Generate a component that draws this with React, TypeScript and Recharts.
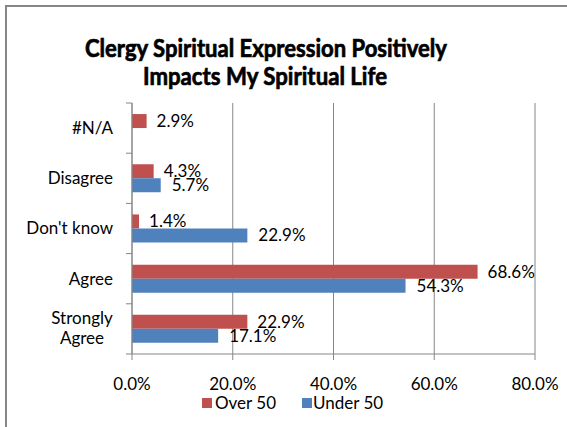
import { BarChart, Bar, XAxis, YAxis, CartesianGrid, LabelList } from 'recharts';

// categories top to bottom, values in percent
const categories = ['#N/A', 'Disagree', "Don't know", 'Agree', 'Strongly Agree'];
const over50 = [2.9, 4.3, 1.4, 68.6, 22.9];
const under50: (number | null)[] = [null, 5.7, 22.9, 54.3, 17.1];
const xTicks = [0, 20, 40, 60, 80];

const titleLines = ['Clergy Spiritual Expression Positively', 'Impacts My Spiritual Life'];
const seriesNames = ['Over 50', 'Under 50'];

const RED = '#C0504D';
const BLUE = '#4F81BD';
const AXIS = '#868686';
const FONT = 'Lato, "Open Sans", sans-serif';
const FS = 17;

const data = categories.map((name, i) => ({
  name,
  over: over50[i],
  under: under50[i],
}));

const pct = (v: any) => (v == null || v === '' ? '' : `${Number(v).toFixed(1)}%`);

// category label plus tick marks on the band boundaries (Excel style)
function CategoryTick(props: any) {
  const { x, y, payload, index, visibleTicksCount } = props;
  const half = payload?.offset || 25;
  const label: string = payload.value;
  const lines = label.length > 12 ? label.split(' ') : [label];
  const isLast = index === (visibleTicksCount ?? categories.length) - 1;
  return (
    <g>
      <line x1={x} x2={x - 6} y1={y - half} y2={y - half} stroke={AXIS} />
      {isLast && <line x1={x} x2={x - 6} y1={y + half} y2={y + half} stroke={AXIS} />}
      {lines.length === 1 ? (
        <text x={x - 19} y={y} dy="0.35em" textAnchor="end" fontSize={FS} fill="#000" fontFamily={FONT}>
          {label}
        </text>
      ) : (
        <text x={x - 50} y={y} textAnchor="middle" fontSize={FS} fill="#000" fontFamily={FONT}>
          {lines.map((l, i) => (
            <tspan key={l} x={x - 50} y={y + 5 + (i - (lines.length - 1) / 2) * 20}>
              {l}
            </tspan>
          ))}
        </text>
      )}
    </g>
  );
}

export default function App() {
  return (
    <div
      style={{
        position: 'absolute',
        left: 0,
        top: 0,
        width: 567,
        height: 427,
        overflow: 'hidden',
        background: '#fff',
        fontFamily: FONT,
      }}
    >
      {/* 枠線（上と左だけ見えている） */}
      <div
        style={{
          position: 'absolute',
          left: 5,
          top: 5,
          width: 700,
          height: 600,
          borderTop: `2px solid ${AXIS}`,
          borderLeft: `2px solid ${AXIS}`,
        }}
      />
      <div style={{ position: 'absolute', left: 0, top: 0 }}>
        <BarChart
          width={567}
          height={427}
          data={data}
          layout="vertical"
          margin={{ top: 103, right: 32, left: 0, bottom: 0 }}
          barCategoryGap="22%"
          barGap={0}
        >
          <CartesianGrid horizontal={false} stroke={AXIS} />
          <XAxis
            type="number"
            domain={[0, 80]}
            ticks={xTicks}
            tickFormatter={pct}
            height={73}
            tickSize={6}
            tickMargin={18}
            axisLine={{ stroke: AXIS }}
            tickLine={{ stroke: AXIS }}
            tick={{ fontSize: FS, fill: '#000', fontFamily: FONT }}
          />
          <YAxis
            type="category"
            dataKey="name"
            width={132}
            tickSize={0}
            tickMargin={0}
            tickLine={false}
            axisLine={{ stroke: AXIS }}
            tick={<CategoryTick />}
            interval={0}
          />
          <Bar dataKey="over" name={seriesNames[0]} fill={RED} isAnimationActive={false}>
            <LabelList dataKey="over" position="right" offset={10} formatter={pct} fill="#000" fontSize={FS} fontFamily={FONT} />
          </Bar>
          <Bar dataKey="under" name={seriesNames[1]} fill={BLUE} isAnimationActive={false}>
            <LabelList dataKey="under" position="right" offset={11} formatter={pct} fill="#000" fontSize={FS} fontFamily={FONT} />
          </Bar>
        </BarChart>
      </div>
      {/* タイトルと凡例 */}
      <svg width={567} height={427} style={{ position: 'absolute', left: 0, top: 0, pointerEvents: 'none' }}>
        <g fontSize={25} fontWeight="bold" fontFamily={FONT} stroke="#000" strokeWidth={0.7} textAnchor="middle">
          <text x={266} y={57} textLength={362} lengthAdjust="spacingAndGlyphs">
            {titleLines[0]}
          </text>
          <text x={265} y={85} textLength={244} lengthAdjust="spacingAndGlyphs">
            {titleLines[1]}
          </text>
        </g>
        <rect x={202} y={398} width={10} height={10} fill={RED} />
        <text x={215} y={409} fontSize={FS} fontFamily={FONT}>
          {seriesNames[0]}
        </text>
        <rect x={302} y={398} width={10} height={10} fill={BLUE} />
        <text x={313} y={409} fontSize={FS} fontFamily={FONT}>
          {seriesNames[1]}
        </text>
      </svg>
    </div>
  );
}
